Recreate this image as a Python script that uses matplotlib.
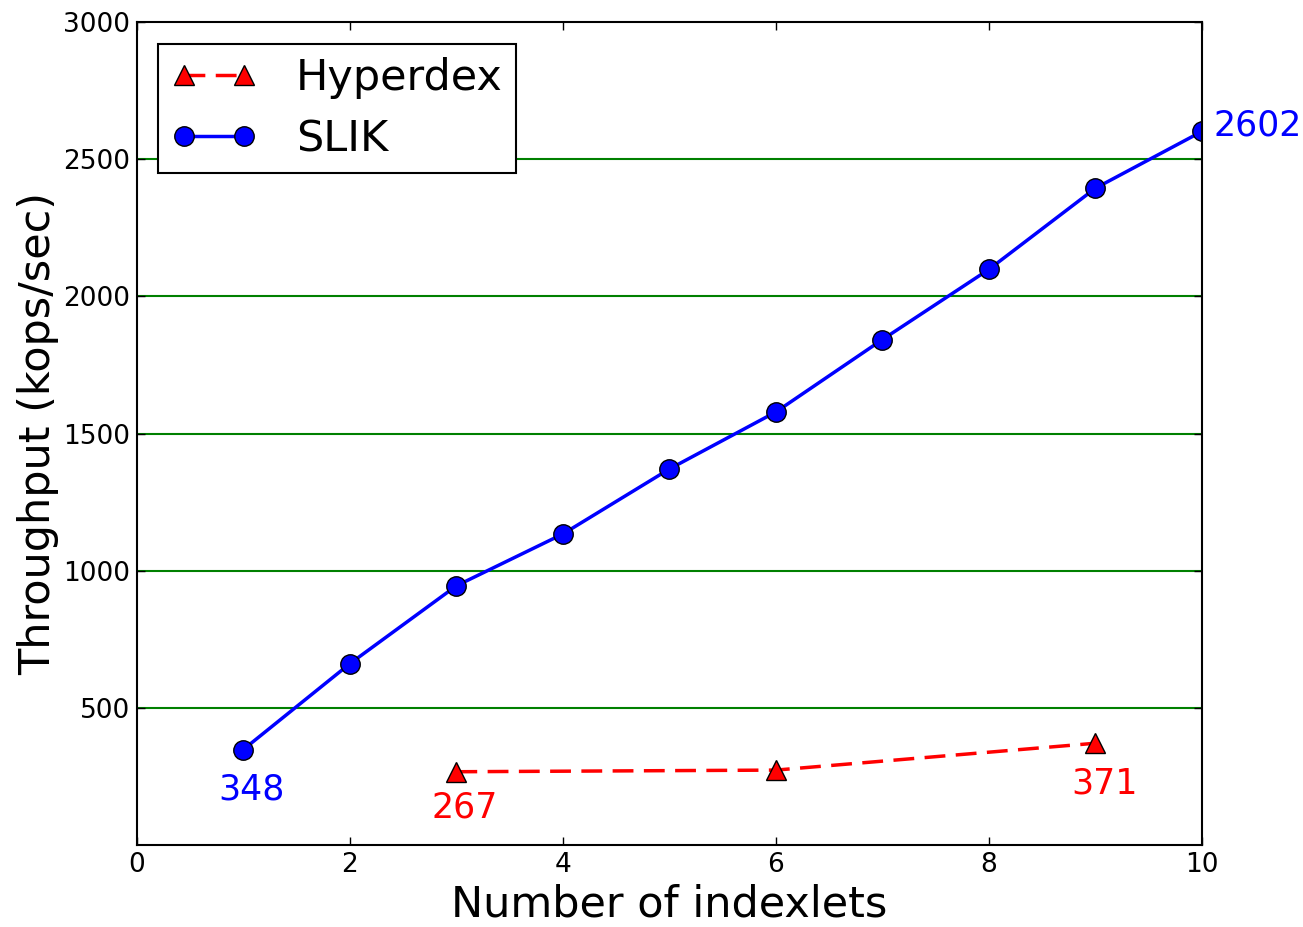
import matplotlib
matplotlib.use("Agg")
import matplotlib.pyplot as plt

slik_x = [1, 2, 3, 4, 5, 6, 7, 8, 9, 10]
slik_y = [348, 661, 945, 1134, 1371, 1579, 1843, 2099, 2395, 2602]
hyper_x = [3, 6, 9]
hyper_y = [267, 273, 371]

fig = plt.figure(figsize=(13.03, 9.27), dpi=100)
ax = fig.add_axes([0.105, 0.0885, 0.8175, 0.8875])

ax.plot(hyper_x, hyper_y, color="red", linestyle="--", dashes=(6, 3),
        linewidth=2.5, marker="^", markersize=14, markerfacecolor="red",
        markeredgecolor="black", markeredgewidth=1, label="Hyperdex")
ax.plot(slik_x, slik_y, color="blue", linestyle="-", linewidth=2.5,
        marker="o", markersize=14, markerfacecolor="blue",
        markeredgecolor="black", markeredgewidth=1, label="SLIK")

for yv in [500, 1000, 1500, 2000, 2500]:
    ax.axhline(yv, color="green", linewidth=1.5, zorder=0)

# value labels
ax.annotate(str(slik_y[0]), (slik_x[0], slik_y[0]), xytext=(8, -40),
            textcoords="offset pixels", ha="center", va="center",
            color="blue", fontsize=25)
ax.annotate(str(slik_y[-1]), (slik_x[-1], slik_y[-1]), xytext=(11, 6),
            textcoords="offset pixels", ha="left", va="center",
            color="blue", fontsize=25, annotation_clip=False)
ax.annotate(str(hyper_y[0]), (hyper_x[0], hyper_y[0]), xytext=(8, -36),
            textcoords="offset pixels", ha="center", va="center",
            color="red", fontsize=25)
ax.annotate(str(hyper_y[-1]), (hyper_x[-1], hyper_y[-1]), xytext=(9, -40),
            textcoords="offset pixels", ha="center", va="center",
            color="red", fontsize=25)

ax.set_xlim(0, 10)
ax.set_ylim(0, 3000)
ax.set_xticks([0, 2, 4, 6, 8, 10])
ax.set_yticks([500, 1000, 1500, 2000, 2500, 3000])
ax.tick_params(direction="in", labelsize=19, length=6, width=1,
               top=True, right=True, pad=5)
for s in ax.spines.values():
    s.set_linewidth(1.5)

ax.set_xlabel("Number of indexlets", fontsize=31, labelpad=4)
ax.set_ylabel("Throughput (kops/sec)", fontsize=31, labelpad=3)

leg = ax.legend(loc="upper left", fontsize=31, numpoints=2, fancybox=False,
                frameon=True, handlelength=2.0, borderaxespad=0.5,
                borderpad=0.3, labelspacing=0.45, handletextpad=0.9)
leg.get_frame().set_edgecolor("black")
leg.get_frame().set_linewidth(1.5)
leg.get_frame().set_alpha(1)

fig.savefig("out.png", dpi=100)
